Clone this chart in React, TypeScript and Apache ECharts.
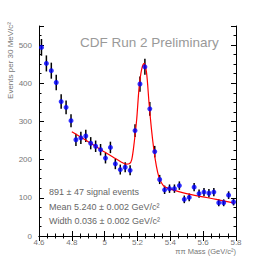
import React, { useEffect, useRef } from "react";
import * as echarts from "echarts";

const massBins = [
  4.615, 4.645, 4.675, 4.705, 4.735, 4.765, 4.795, 4.825, 4.855, 4.885,
  4.915, 4.945, 4.975, 5.005, 5.035, 5.065, 5.095, 5.125, 5.155, 5.185,
  5.215, 5.245, 5.275, 5.305, 5.335, 5.365, 5.395, 5.425, 5.455, 5.485,
  5.515, 5.545, 5.575, 5.605, 5.635, 5.665, 5.695, 5.725, 5.755, 5.785,
];
const events = [
  494, 452, 433, 402, 352, 337, 302, 252, 257, 262,
  243, 235, 226, 204, 232, 189, 174, 180, 172, 276,
  398, 443, 333, 221, 148, 121, 124, 124, 132, 96,
  101, 128, 111, 115, 112, 115, 87, 87, 107, 89,
];
const errors = [
  22, 21, 21, 20, 19, 18, 17, 16, 16, 16,
  16, 15, 15, 14, 15, 14, 13, 13, 13, 17,
  20, 21, 18, 15, 12, 11, 11, 11, 11, 10,
  10, 11, 11, 11, 11, 11, 9, 9, 10, 9,
];
const fitMass = [
  4.8, 4.85, 4.9, 4.95, 5.0, 5.05, 5.1, 5.13, 5.15, 5.165,
  5.18, 5.195, 5.21, 5.225, 5.24, 5.255, 5.27, 5.285, 5.3, 5.315,
  5.33, 5.345, 5.36, 5.38, 5.42, 5.48, 5.58, 5.68, 5.79,
];
const fitValues = [
  273, 260, 247, 233, 220, 207, 194, 188, 189, 200,
  245, 305, 390, 436, 452, 428, 350, 280, 225, 183,
  155, 140, 131, 126, 120, 113, 104, 96, 86,
];
const titleText = "CDF Run 2 Preliminary";
const yAxisTitle = "Events per 30 MeV/c²";
const xAxisTitle = "ππ Mass (GeV/c²)";
const infoLines = [
  "891 ± 47 signal events",
  "Mean 5.240 ± 0.002 GeV/c²",
  "Width 0.036 ± 0.002 GeV/c²",
];

const FONT = "'Liberation Sans', Arial, sans-serif";

export default function App() {
  const ref = useRef<HTMLDivElement>(null);
  useEffect(() => {
    if (!ref.current) return;
    const chart = echarts.init(ref.current, null, { renderer: "svg" });
    const points = massBins.map((m, i) => [m, events[i]]);
    const bars = massBins.map((m, i) => [m, events[i] - errors[i], events[i] + errors[i]]);
    const fit = fitMass.map((m, i) => [m, fitValues[i]]);
    const tickStyle = { show: true, inside: true, length: 5, lineStyle: { color: "#000", width: 1 } };
    const minorStyle = { show: true, splitNumber: 4, length: 2.5, lineStyle: { color: "#000", width: 1 } };
    chart.setOption({
      animation: false,
      backgroundColor: "#fff",
      grid: { left: 39, right: 26, top: 26, bottom: 26, containLabel: false },
      xAxis: [
        {
          type: "value",
          min: 4.6,
          max: 5.8,
          interval: 0.2,
          axisLine: { show: true, onZero: false, lineStyle: { color: "#000", width: 1 } },
          axisTick: tickStyle,
          minorTick: minorStyle,
          splitLine: { show: false },
          axisLabel: {
            color: "#777",
            fontSize: 8,
            fontFamily: FONT,
            margin: 2,
            formatter: (v: number) => String(Number(v.toFixed(1))),
          },
        },
        {
          type: "value",
          position: "top",
          min: 4.6,
          max: 5.8,
          interval: 0.2,
          axisLine: { show: true, lineStyle: { color: "#000", width: 1 } },
          axisTick: tickStyle,
          minorTick: minorStyle,
          splitLine: { show: false },
          axisLabel: { show: false },
        },
      ],
      yAxis: [
        {
          type: "value",
          min: 0,
          max: 550,
          interval: 100,
          axisLine: { show: true, onZero: false, lineStyle: { color: "#000", width: 1 } },
          axisTick: tickStyle,
          minorTick: minorStyle,
          splitLine: { show: false },
          axisLabel: {
            color: "#777",
            fontSize: 8,
            fontFamily: FONT,
            margin: 7,
            formatter: (v: number) => (v % 100 === 0 ? String(v) : ""),
          },
        },
        {
          type: "value",
          position: "right",
          min: 0,
          max: 550,
          interval: 100,
          axisLine: { show: true, lineStyle: { color: "#000", width: 1 } },
          axisTick: tickStyle,
          minorTick: minorStyle,
          splitLine: { show: false },
          axisLabel: { show: false },
        },
      ],
      series: [
        {
          type: "custom",
          xAxisIndex: 0,
          yAxisIndex: 0,
          data: bars,
          z: 2,
          renderItem: (params: any, api: any) => {
            const x = api.value(0);
            const lo = api.coord([x, api.value(1)]);
            const hi = api.coord([x, api.value(2)]);
            return {
              type: "line",
              shape: { x1: lo[0], y1: lo[1], x2: hi[0], y2: hi[1] },
              style: { stroke: "#000", lineWidth: 1.5 },
            };
          },
        },
        {
          type: "line",
          xAxisIndex: 0,
          yAxisIndex: 0,
          data: fit,
          smooth: 0.3,
          showSymbol: false,
          symbol: "none",
          z: 3,
          lineStyle: { color: "#ff0000", width: 1.2 },
        },
        {
          type: "scatter",
          xAxisIndex: 0,
          yAxisIndex: 0,
          data: points,
          symbol: "circle",
          symbolSize: 5,
          z: 4,
          itemStyle: { color: "#0000ff" },
        },
      ],
      graphic: [
        {
          type: "text",
          x: 80,
          y: 42,
          style: {
            text: titleText,
            fill: "#999",
            font: `13.5px ${FONT}`,
            textVerticalAlign: "middle",
          },
        },
        ...infoLines.map((t, i) => ({
          type: "text",
          x: 49,
          y: 192 + i * 14.5,
          style: { text: t, fill: "#666", font: `9px ${FONT}`, textVerticalAlign: "middle" },
        })),
        {
          type: "text",
          x: 236,
          y: 251,
          style: {
            text: xAxisTitle,
            fill: "#777",
            font: `7.5px ${FONT}`,
            textAlign: "right",
            textVerticalAlign: "middle",
          },
        },
        {
          type: "text",
          x: 10,
          y: 22,
          rotation: Math.PI / 2,
          style: {
            text: yAxisTitle,
            fill: "#777",
            font: `8px ${FONT}`,
            textAlign: "right",
            textVerticalAlign: "middle",
          },
        },
      ],
    });
    return () => chart.dispose();
  }, []);
  return <div ref={ref} style={{ width: 262, height: 262, position: "absolute", left: 0, top: 0 }} />;
}
